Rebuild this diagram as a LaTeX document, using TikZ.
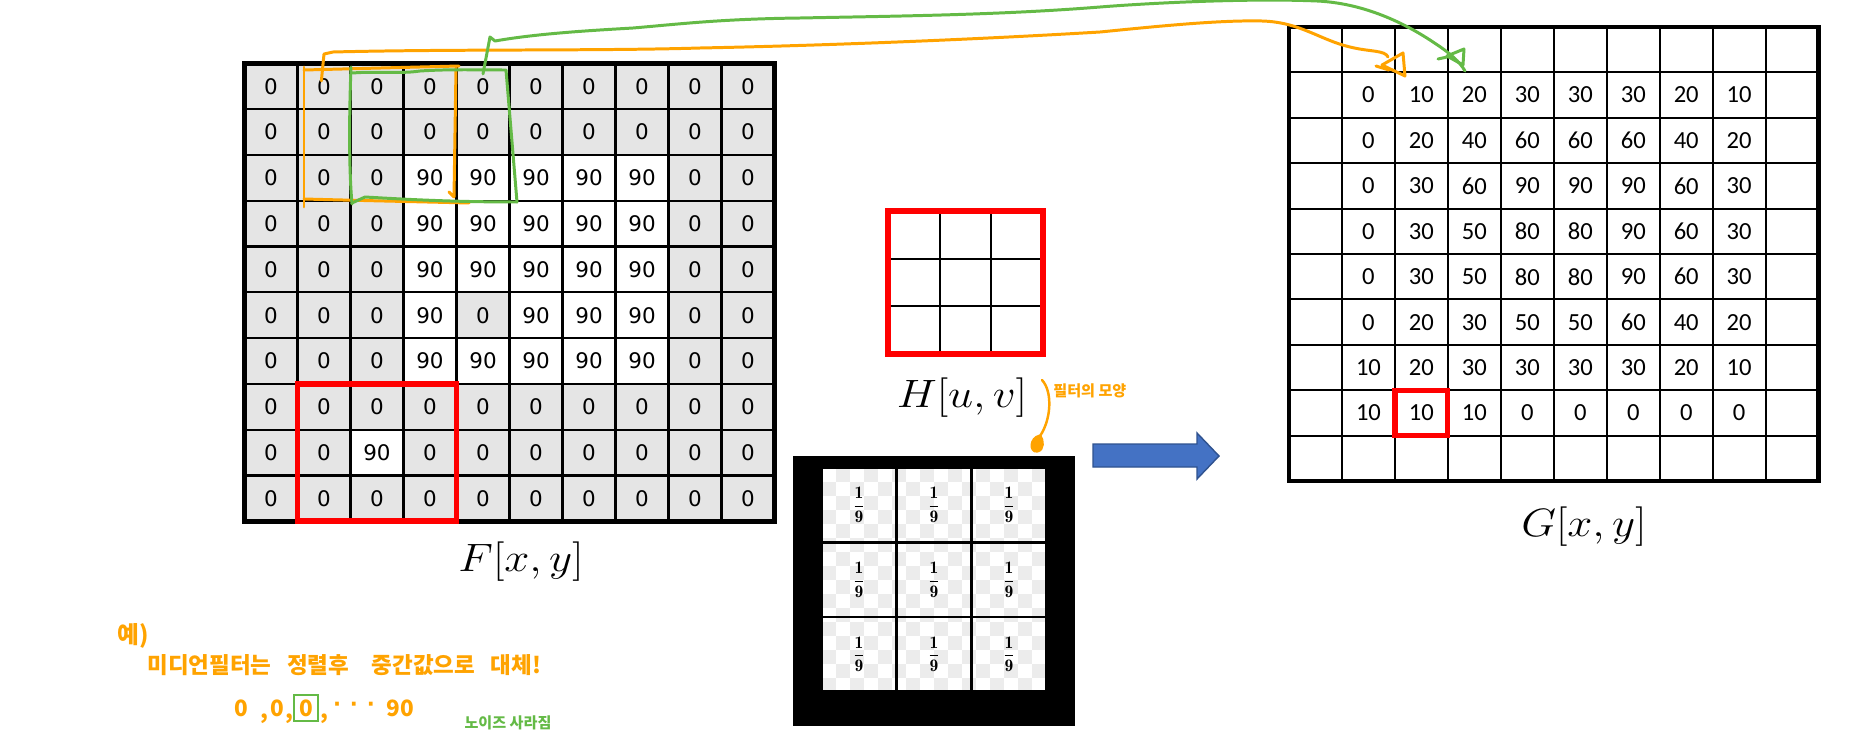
\documentclass[tikz,border=0pt]{standalone}
\usepackage{fontspec}
\newfontfamily\krfont{Noto Sans CJK KR}
\newfontfamily\calfont{Carlito}
\newfontfamily\dvfont{DejaVu Sans}
\definecolor{cellgray}{RGB}{229,229,229}
\definecolor{hand}{RGB}{255,163,0}
\definecolor{handgreen}{RGB}{100,186,70}
\definecolor{arrowblue}{RGB}{68,114,196}
\definecolor{arrowedge}{RGB}{47,82,143}
\definecolor{checker}{RGB}{236,236,236}
\begin{document}
\begin{tikzpicture}[x=0.02cm,y=-0.02cm,
  fcell/.style={draw=black, line width=1.2pt, minimum width=1.06cm, minimum height=0.916cm, inner sep=0pt, outer sep=0pt, font=\dvfont\fontsize{12.2}{14}\selectfont},
  gcell/.style={draw=black, line width=1.2pt, minimum width=1.0592cm, minimum height=0.908cm, inner sep=0pt, outer sep=0pt, font=\calfont\fontsize{14}{16}\selectfont},
  hcell/.style={draw=black, line width=1.1pt, minimum width=1.0333cm, minimum height=0.9533cm, inner sep=0pt, outer sep=0pt},
  kcell/.style={draw=black, line width=1.4pt, minimum width=1.5cm, minimum height=1.493cm, inner sep=0pt, outer sep=0pt, font=\fontsize{10}{12}\selectfont},
  mathlabel/.style={font=\fontsize{24.88}{29}\selectfont, inner sep=0pt},
  redframe/.style={draw=red, line width=3.4pt},
  borderline/.style={draw=black, line width=2.8pt},
  handline/.style={line width=1.7pt, line cap=round, line join=round},
  handtext/.style={font=\krfont\bfseries\fontsize{12.8}{15}\selectfont, inner sep=0pt, text=hand},
  smallhand/.style={font=\krfont\bfseries\fontsize{8.6}{10}\selectfont, inner sep=0pt},
]
\useasboundingbox (0,0) rectangle (1850,744);
\fill[white] (0,0) rectangle (1850,744);

% ---------- F[x,y] ----------
\foreach \ri/\vals in {
  0/{0,0,0,0,0,0,0,0,0,0},
  1/{0,0,0,0,0,0,0,0,0,0},
  2/{0,0,0,90,90,90,90,90,0,0},
  3/{0,0,0,90,90,90,90,90,0,0},
  4/{0,0,0,90,90,90,90,90,0,0},
  5/{0,0,0,90,0,90,90,90,0,0},
  6/{0,0,0,90,90,90,90,90,0,0},
  7/{0,0,0,0,0,0,0,0,0,0},
  8/{0,0,90,0,0,0,0,0,0,0},
  9/{0,0,0,0,0,0,0,0,0,0}}{
  \foreach \v [count=\ci from 0] in \vals {
    \ifnum\v=90\relax \def\fc{white}\else \def\fc{cellgray}\fi
    \node[fcell, fill=\fc] (f-\ri-\ci) at ({271+53*\ci},{86.2+45.8*\ri}) {\v};
  }
}
\draw[borderline] (f-0-0.north west) rectangle (f-9-9.south east);
\draw[redframe] (f-7-1.north west) rectangle (f-9-3.south east);
\node[mathlabel] (flabel) at (521,562) {\scalebox{1.03}[0.905]{$F[x,y]$}};

% ---------- H[u,v] ----------
\foreach \ri in {0,1,2}{
  \foreach \ci in {0,1,2}{
    \node[hcell] (h-\ri-\ci) at ({913.8+51.67*\ci},{234.8+47.67*\ri}) {};
  }
}
\draw[redframe] (h-0-0.north west) rectangle (h-2-2.south east);
\node[mathlabel] (hlabel) at (962,398) {\scalebox{1.03}[0.905]{$H[u,v]$}};

% ---------- mean filter kernel ----------
\fill[black] (793,456) rectangle (1075,726);
\fill[white] (822,468) rectangle (1046,692);
\foreach \i in {0,...,15}{
  \foreach \j in {0,...,15}{
    \pgfmathtruncatemacro\cpar{mod(\i+\j,2)}
    \ifnum\cpar=1\relax \fill[checker] ({822+14*\i},{468+14*\j}) rectangle ++(14,14);\fi
  }
}
\foreach \ri in {0,1,2}{
  \foreach \ci in {0,1,2}{
    \node[kcell] (k-\ri-\ci) at ({859+75*\ci},{505+74.67*\ri}) {\raisebox{-3pt}{$\displaystyle\frac{\mathbf{1}}{\mathbf{9}}$}};
  }
}

% ---------- block arrow ----------
\draw[fill=arrowblue, draw=arrowedge, line width=0.8pt]
  (1093,444) -- (1197,444) -- (1197,433) -- (1219,456) -- (1197,479) -- (1197,467) -- (1093,467) -- cycle;

% ---------- G[x,y] ----------
\foreach \ri/\vals in {
  0/{-,-,-,-,-,-,-,-,-,-},
  1/{-,0,10,20,30,30,30,20,10,-},
  2/{-,0,20,40,60,60,60,40,20,-},
  3/{-,0,30,60,90,90,90,60,30,-},
  4/{-,0,30,50,80,80,90,60,30,-},
  5/{-,0,30,50,80,80,90,60,30,-},
  6/{-,0,20,30,50,50,60,40,20,-},
  7/{-,10,20,30,30,30,30,20,10,-},
  8/{-,10,10,10,0,0,0,0,0,-},
  9/{-,-,-,-,-,-,-,-,-,-}}{
  \foreach \v [count=\ci from 0] in \vals {
    \def\dashmark{-}\edef\cur{\v}
    \ifx\cur\dashmark \def\txt{}\else \let\txt\cur\fi
    \node[gcell] (g-\ri-\ci) at ({1315.5+52.96*\ci},{49.7+45.4*\ri}) {\txt};
  }
}
\draw[borderline] (g-0-0.north west) rectangle (g-9-9.south east);
\draw[redframe, line width=2.9pt] (g-8-2.north west) rectangle (g-8-2.south east);
\node[mathlabel] (glabel) at (1584,527) {\scalebox{1.03}[0.905]{$G[x,y]$}};

% ---------- hand-drawn windows on F ----------
\draw[hand, handline] (304,207) -- (304,67);
\draw[hand, handline] (304,70) .. controls (380,68) and (420,67) .. (459,66);
\draw[hand, handline] (456,68) -- (454,197) -- (449,192);
\draw[hand, handline] (304,199) .. controls (380,201) and (430,202) .. (469,203);
\draw[handgreen, handline] (351,67) .. controls (349,120) and (349,170) .. (352,204);
\draw[handgreen, handline] (352,73) .. controls (380,71) and (400,74) .. (420,71) .. controls (450,69) and (480,70) .. (506,70) -- (517,202);
\draw[handgreen, handline] (352,203) -- (365,197) .. controls (400,199) and (450,202) .. (517,202);

% ---------- hand-drawn connectors F -> G ----------
\coordinate (oend) at (1388,57);
\coordinate (gend) at (1465,71);
\draw[hand, handline] ([xshift=-1.5pt,yshift=3pt]f-0-1.center) -- (324,54) -- (333,52)
  .. controls (450,49) and (600,51) .. (700,48)
  .. controls (850,45) and (1000,38) .. (1100,32)
  .. controls (1160,26) and (1220,20) .. (1262,21)
  .. controls (1300,22) and (1320,40) .. (1350,47)
  .. controls (1370,52) and (1385,50) .. (oend);
\draw[hand, handline] (1382,65) -- (1403,53) -- (1405,76) -- cycle;
\draw[hand, handline] (1376,66) -- (1389,70);
\draw[handgreen, handline] ([yshift=7pt]f-0-4.center) -- (490,37) -- (495,41)
  .. controls (540,33) and (600,30) .. (633,28)
  .. controls (680,24) and (720,19) .. (800,18)
  .. controls (900,16) and (1000,15) .. (1100,7)
  .. controls (1150,3) and (1250,-2) .. (1317,1)
  .. controls (1360,3) and (1400,20) .. (1433,42)
  .. controls (1450,53) and (1460,62) .. (gend);
\draw[handgreen, handline] (1447,56) -- (1464,49) -- (1463,65) -- cycle;
\draw[handgreen, handline] (1438,59) -- (1447,57);

% ---------- notes ----------
\draw[hand, line width=1.4pt, line cap=round] (1042,380) .. controls (1053,392) and (1051,420) .. (1040,436);
\draw[hand, line width=1.8pt, line cap=round, fill=hand] (1040,436) .. controls (1030,438) and (1030,452) .. (1037,451) .. controls (1044,450) and (1043,440) .. (1040,436);
\node[smallhand, text=hand, anchor=west] (fnote) at (1053,391) {필터의 모양};

\node[handtext, font=\krfont\bfseries\fontsize{13.5}{15}\selectfont] (ex) at (133,636) {예)};
\node[handtext, anchor=west] (note) at (147,665) {미디언필터는\hspace{0.7em}정렬후\hspace{1em}중간값으로\hspace{0.7em}대체!};
\node[handtext, anchor=base] (s1) at (241,716) {0};
\node[handtext, anchor=base] (s2) at (264,718) {,};
\node[handtext, anchor=base] (s3) at (277,716) {0};
\node[handtext, anchor=base] (s4) at (289,718) {,};
\node[handtext, anchor=base, draw=handgreen, line width=1.5pt, minimum width=0.48cm, minimum height=0.52cm] (s5) at (306,716) {0};
\node[handtext, anchor=base] (s6) at (324,718) {,};
\node[handtext, anchor=base, font=\dvfont\bfseries\fontsize{12}{14}\selectfont] (s7) at (354,711) {·\hspace{5pt}·\hspace{5pt}·};
\node[handtext, anchor=base] (s8) at (400,716) {90};
\node[smallhand, text=handgreen] (noise) at (508,723) {노이즈 사라짐};
\end{tikzpicture}
\end{document}
